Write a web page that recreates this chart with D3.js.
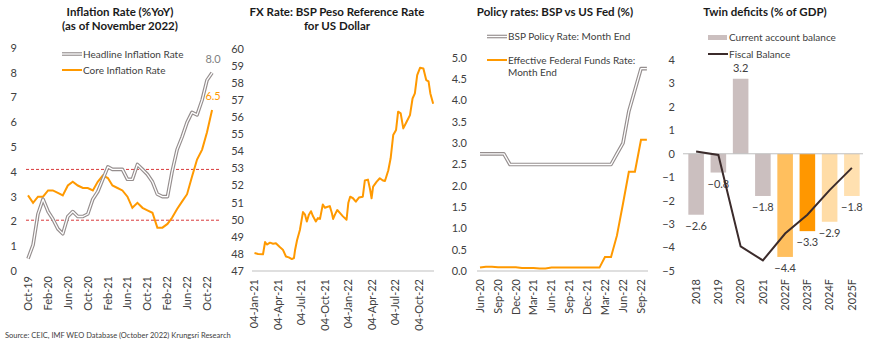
<!DOCTYPE html>
<html>
<head>
<meta charset="utf-8">
<script src="https://cdn.jsdelivr.net/npm/d3@7/dist/d3.min.js"></script>
<style>
body { margin: 0; background: #fff; }
svg text { font-family: Lato, "Open Sans", sans-serif; fill: #404040; }
.ttl { font-weight: bold; font-size: 11.5px; fill: #1a1a1a; }
.tick-lbl { font-size: 11px; }
.leg { font-size: 10px; }
</style>
</head>
<body>
<svg id="chart" width="870" height="347"></svg>
<script>
// ---- data ----
// inflation, monthly Oct-19 .. Nov-22
var headline = [0.5, 1.05, 2.3, 2.9, 2.4, 2.1, 1.7, 1.5, 2.2, 2.4, 2.2, 2.2, 2.3, 2.9, 3.2, 3.7,
    4.2, 4.1, 4.1, 4.1, 3.7, 3.7, 4.3, 4.1, 3.9, 3.6, 3.1, 3.0, 3.0, 4.0, 4.9, 5.4, 6.0, 6.4,
    6.3, 6.9, 7.7, 8.0];
var core = [3.05, 2.75, 3.0, 3.0, 3.25, 3.25, 3.15, 3.05, 3.45, 3.6, 3.45, 3.35, 3.35, 3.25, 3.6,
    3.85, 3.75, 3.45, 3.35, 3.25, 3.0, 2.55, 2.75, 2.55, 2.45, 2.35, 1.75, 1.75, 1.9, 2.15, 2.5,
    2.8, 3.1, 3.8, 4.5, 4.9, 5.6, 6.5];
var inflTicks = ['Oct-19', 'Feb-20', 'Jun-20', 'Oct-20', 'Feb-21', 'Jun-21', 'Oct-21', 'Feb-22', 'Jun-22', 'Oct-22'];
var targetBand = [4.1, 2.05];

// BSP peso per USD
var fxDates = ['2021-01-04', '2021-01-18', '2021-02-06', '2021-02-14', '2021-02-21', '2021-03-05',
    '2021-03-17', '2021-03-28', '2021-04-12', '2021-04-24', '2021-05-06', '2021-05-17', '2021-05-29',
    '2021-06-06', '2021-06-10', '2021-06-18', '2021-06-29', '2021-07-11', '2021-07-19', '2021-07-26',
    '2021-08-03', '2021-08-11', '2021-08-19', '2021-08-30', '2021-09-07', '2021-09-15', '2021-09-26',
    '2021-10-04', '2021-10-12', '2021-10-23', '2021-10-31', '2021-11-05', '2021-11-12', '2021-11-21',
    '2021-12-01', '2021-12-13', '2021-12-27', '2022-01-03', '2022-01-10', '2022-01-21', '2022-02-01',
    '2022-02-13', '2022-02-28', '2022-03-08', '2022-03-20', '2022-03-28', '2022-04-03', '2022-04-09',
    '2022-04-23', '2022-05-05', '2022-05-17', '2022-05-25', '2022-06-07', '2022-06-16', '2022-06-26',
    '2022-07-07', '2022-07-15', '2022-07-25', '2022-08-04', '2022-08-17', '2022-08-30', '2022-09-09',
    '2022-09-18', '2022-09-27', '2022-10-08', '2022-10-21', '2022-11-01', '2022-11-10', '2022-11-17',
    '2022-11-28'];
var fxRate = [48.05, 48.0, 47.98, 48.7, 48.55, 48.66, 48.6, 48.62, 48.4, 48.25, 47.85, 47.8, 47.7,
    47.75, 48.2, 48.8, 49.4, 50.45, 50.3, 49.9, 50.3, 50.5, 50.2, 49.9, 50.1, 50.05, 50.9, 50.7,
    50.75, 50.8, 50.4, 50.05, 50.3, 50.57, 50.4, 50.2, 50.0, 51.0, 51.35, 51.26, 51.06, 51.3, 51.35,
    52.3, 52.35, 51.8, 51.26, 51.94, 52.23, 52.43, 52.3, 52.27, 52.9, 53.6, 54.96, 55.26, 56.33,
    56.23, 55.35, 55.74, 56.13, 57.1, 57.4, 58.47, 58.9, 58.86, 58.18, 58.1, 57.4, 56.8];
var fxTicks = ['2021-01-04', '2021-04-04', '2021-07-04', '2021-10-04', '2022-01-04', '2022-04-04', '2022-07-04', '2022-10-04'];

// policy rates, month end Jun-20 .. Oct-22
var bspRate = [2.75, 2.75, 2.75, 2.75, 2.75, 2.5, 2.5, 2.5, 2.5, 2.5, 2.5, 2.5, 2.5, 2.5, 2.5, 2.5,
    2.5, 2.5, 2.5, 2.5, 2.5, 2.5, 2.5, 2.75, 3.0, 3.75, 4.25, 4.75, 4.75];
var fedRate = [0.08, 0.1, 0.1, 0.09, 0.09, 0.09, 0.09, 0.07, 0.07, 0.07, 0.06, 0.06, 0.08, 0.08,
    0.08, 0.08, 0.08, 0.08, 0.08, 0.08, 0.08, 0.33, 0.33, 0.83, 1.58, 2.33, 2.33, 3.08, 3.08];
var policyTicks = ['Jun-20', 'Sep-20', 'Dec-20', 'Mar-21', 'Jun-21', 'Sep-21', 'Dec-21', 'Mar-22', 'Jun-22', 'Sep-22'];

// twin deficits
var years = ['2018', '2019', '2020', '2021', '2022F', '2023F', '2024F', '2025F'];
var currentAccount = [-2.6, -0.8, 3.2, -1.8, -4.4, -3.3, -2.9, -1.8];
var fiscalBalance = [0.1, -0.05, -3.95, -4.55, -3.4, -2.6, -1.55, -0.6];
var barColors = ['#cbbfbf', '#cbbfbf', '#cbbfbf', '#cbbfbf', '#ffbf5e', '#ff9700', '#ffdca6', '#ffe0b0'];

var ORANGE = '#ff9900';
var svg = d3.select('#chart');
var parseMon = d3.timeParse('%b-%y');
var parseDay = d3.timeParse('%Y-%m-%d');

function doubleLine(g, pts) {
    g.append('path').attr('d', pts).attr('fill', 'none')
        .attr('stroke', '#958e8e').attr('stroke-width', 3.6).attr('stroke-linejoin', 'round');
    g.append('path').attr('d', pts).attr('fill', 'none')
        .attr('stroke', '#fff').attr('stroke-width', 1.3).attr('stroke-linejoin', 'round');
}

function yLabels(y, ticks, xEnd, fmt) {
    svg.append('g').selectAll('text').data(ticks).enter().append('text')
        .attr('class', 'tick-lbl')
        .attr('x', xEnd).attr('y', function(d) { return y(d); })
        .attr('dy', '0.35em').attr('text-anchor', 'end')
        .text(fmt);
}

function xLabels(xs, labels, top) {
    svg.append('g').selectAll('text').data(labels).enter().append('text')
        .attr('class', 'tick-lbl')
        .attr('text-anchor', 'end').attr('dy', '0.35em')
        .attr('transform', function(d, i) { return 'translate(' + xs[i] + ',' + top + ') rotate(-90)'; })
        .text(function(d) { return d; });
}

function title(lines, cx) {
    lines.forEach(function(t, i) {
        svg.append('text').attr('class', 'ttl').attr('x', cx).attr('y', 16 + i * 14)
            .attr('text-anchor', 'middle').text(t);
    });
}

// ---- panel 1: inflation ----
var inflMonths = d3.timeMonth.range(parseMon('Oct-19'), d3.timeMonth.offset(parseMon('Oct-19'), headline.length));
var x1 = d3.scaleTime().domain([parseMon('Oct-19'), parseMon('Oct-22')]).range([28, 207]);
var y1 = d3.scaleLinear().domain([0, 9]).range([271, 48]);
title(['Inflation Rate (%YoY)', '(as of November 2022)'], 120);
yLabels(y1, d3.range(0, 10), 17, d3.format('d'));
xLabels(inflTicks.map(function(t) { return x1(parseMon(t)); }), inflTicks, 276);
svg.append('g').selectAll('line').data(targetBand).enter().append('line')
    .attr('x1', 26).attr('x2', 220)
    .attr('y1', function(d) { return y1(d); }).attr('y2', function(d) { return y1(d); })
    .attr('stroke', '#d9393b').attr('stroke-width', 1).attr('stroke-dasharray', '3,2');
var line1 = d3.line().x(function(d, i) { return x1(inflMonths[i]); }).y(function(d) { return y1(d); });
svg.append('path').attr('d', line1(core)).attr('fill', 'none')
    .attr('stroke', ORANGE).attr('stroke-width', 2);
doubleLine(svg.append('g'), line1(headline));
svg.append('text').attr('x', x1(inflMonths[37]) + 1).attr('y', y1(8.0) - 10)
    .attr('text-anchor', 'middle').style('font-size', '11px').style('fill', '#7f7f7f').text('8.0');
svg.append('text').attr('x', x1(inflMonths[37]) + 1).attr('y', y1(6.5) - 10)
    .attr('text-anchor', 'middle').style('font-size', '11px').style('fill', ORANGE).text('6.5');
doubleLine(svg.append('g'), 'M62,54L82,54');
svg.append('text').attr('class', 'leg').attr('x', 83).attr('y', 54).attr('dy', '0.35em').text('Headline Inflation Rate');
svg.append('line').attr('x1', 62).attr('x2', 82).attr('y1', 70).attr('y2', 70)
    .attr('stroke', ORANGE).attr('stroke-width', 2);
svg.append('text').attr('class', 'leg').attr('x', 83).attr('y', 70).attr('dy', '0.35em').text('Core Inflation Rate');
svg.append('text').attr('x', 5).attr('y', 338).style('font-size', '7.5px')
    .text('Source: CEIC, IMF WEO Database (October 2022) Krungsri Research');

// ---- panel 2: FX ----
var x2 = d3.scaleTime().domain([parseDay('2021-01-04'), parseDay('2022-10-04')]).range([254.5, 419]);
var y2 = d3.scaleLinear().domain([47, 60]).range([271, 49]);
title(['FX Rate: BSP Peso Reference Rate', 'for US Dollar'], 337);
yLabels(y2, d3.range(47, 61), 244, d3.format('d'));
svg.append('line').attr('x1', 252).attr('x2', 434).attr('y1', 271).attr('y2', 271)
    .attr('stroke', '#bfbfbf').attr('stroke-width', 1);
var fxFmt = d3.timeFormat('%d-%b-%y');
xLabels(fxTicks.map(function(t) { return x2(parseDay(t)); }), fxTicks.map(function(t) { return fxFmt(parseDay(t)); }), 279);
var line2 = d3.line().x(function(d, i) { return x2(parseDay(fxDates[i])); }).y(function(d) { return y2(d); });
svg.append('path').attr('d', line2(fxRate)).attr('fill', 'none')
    .attr('stroke', ORANGE).attr('stroke-width', 2).attr('stroke-linejoin', 'round');

// ---- panel 3: policy rates ----
var polMonths = d3.timeMonth.range(parseMon('Jun-20'), d3.timeMonth.offset(parseMon('Jun-20'), bspRate.length));
var x3 = d3.scaleTime().domain([parseMon('Jun-20'), parseMon('Sep-22')]).range([480, 641]);
var y3 = d3.scaleLinear().domain([0, 5]).range([271, 58]);
title(['Policy rates: BSP vs US Fed (%)'], 555);
yLabels(y3, d3.range(0, 5.01, 0.5), 467, d3.format('.1f'));
svg.append('line').attr('x1', 477).attr('x2', 648).attr('y1', 271).attr('y2', 271)
    .attr('stroke', '#bfbfbf').attr('stroke-width', 1);
xLabels(policyTicks.map(function(t) { return x3(parseMon(t)); }), policyTicks, 279);
var line3 = d3.line().x(function(d, i) { return x3(polMonths[i]); }).y(function(d) { return y3(d); });
doubleLine(svg.append('g'), line3(bspRate));
svg.append('path').attr('d', line3(fedRate)).attr('fill', 'none')
    .attr('stroke', ORANGE).attr('stroke-width', 2);
doubleLine(svg.append('g'), 'M487,36.5L507,36.5');
svg.append('text').attr('class', 'leg').attr('x', 508).attr('y', 36.5).attr('dy', '0.35em').text('BSP Policy Rate: Month End');
svg.append('line').attr('x1', 487).attr('x2', 507).attr('y1', 60).attr('y2', 60)
    .attr('stroke', ORANGE).attr('stroke-width', 2);
svg.append('text').attr('class', 'leg').attr('x', 508).attr('y', 60).attr('dy', '0.35em').text('Effective Federal Funds Rate:');
svg.append('text').attr('class', 'leg').attr('x', 508).attr('y', 72).attr('dy', '0.35em').text('Month End');

// ---- panel 4: twin deficits ----
var x4 = d3.scaleBand().domain(years).range([685, 863]).paddingInner(0.3).paddingOuter(0.15);
var y4 = d3.scaleLinear().domain([-5, 4]).range([271, 60]);
title(['Twin deficits (% of GDP)'], 765);
yLabels(y4, d3.range(-5, 5), 675, d3.format('d'));
svg.append('g').selectAll('rect').data(currentAccount).enter().append('rect')
    .attr('x', function(d, i) { return x4(years[i]); })
    .attr('width', x4.bandwidth())
    .attr('y', function(d) { return y4(Math.max(0, d)); })
    .attr('height', function(d) { return Math.abs(y4(d) - y4(0)); })
    .attr('fill', function(d, i) { return barColors[i]; });
svg.append('line').attr('x1', 683).attr('x2', 863).attr('y1', y4(0)).attr('y2', y4(0))
    .attr('stroke', '#bfbfbf').attr('stroke-width', 1);
svg.append('g').selectAll('text').data(currentAccount).enter().append('text')
    .attr('class', 'tick-lbl')
    .attr('x', function(d, i) { return x4(years[i]) + x4.bandwidth() / 2; })
    .attr('y', function(d) { return d < 0 ? y4(d) + 15 : y4(d) - 7; })
    .attr('text-anchor', 'middle')
    .text(function(d) { return d3.format('.1f')(d); });
var line4 = d3.line().x(function(d, i) { return x4(years[i]) + x4.bandwidth() / 2; }).y(function(d) { return y4(d); });
svg.append('path').attr('d', line4(fiscalBalance)).attr('fill', 'none')
    .attr('stroke', '#3b2b2b').attr('stroke-width', 2);
xLabels(years.map(function(t) { return x4(t) + x4.bandwidth() / 2; }), years, 279);
svg.append('rect').attr('x', 708).attr('y', 35).attr('width', 19).attr('height', 5).attr('fill', barColors[0]);
svg.append('text').attr('class', 'leg').attr('x', 729).attr('y', 37.5).attr('dy', '0.35em').text('Current account balance');
svg.append('line').attr('x1', 708).attr('x2', 728).attr('y1', 54).attr('y2', 54)
    .attr('stroke', '#3b2b2b').attr('stroke-width', 2);
svg.append('text').attr('class', 'leg').attr('x', 729).attr('y', 54).attr('dy', '0.35em').text('Fiscal Balance');
</script>
</body>
</html>
